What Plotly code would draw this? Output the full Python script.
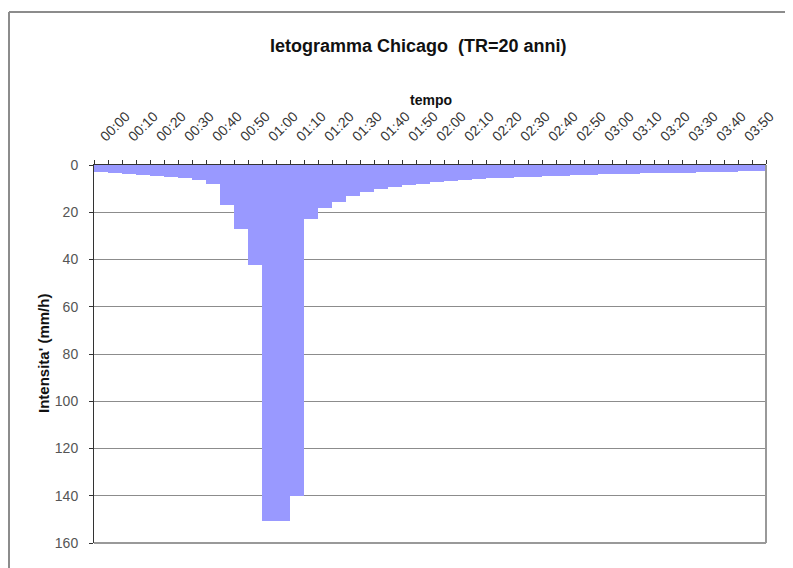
import plotly.graph_objects as go

# 5-minute intervals, 00:00 .. 03:55
step_min = 5
intensity = [2.8, 3.5, 3.8, 4.2, 4.7, 5.1, 5.6, 6.5, 8.0, 16.9, 27.1, 42.3,
             150.7, 150.7, 140.1, 23.0, 18.4, 15.5, 13.1, 11.6, 10.3, 9.3, 8.5, 7.9,
             7.3, 6.9, 6.4, 6.1, 5.7, 5.4, 5.1, 4.9, 4.7, 4.5, 4.3, 4.1,
             3.9, 3.8, 3.7, 3.5, 3.4, 3.3, 3.2, 3.1, 3.0, 2.9, 2.5, 2.4]
tick_labels = ["00:00", "00:10", "00:20", "00:30", "00:40", "00:50",
               "01:00", "01:10", "01:20", "01:30", "01:40", "01:50",
               "02:00", "02:10", "02:20", "02:30", "02:40", "02:50",
               "03:00", "03:10", "03:20", "03:30", "03:40", "03:50"]
y_ticks = [0, 20, 40, 60, 80, 100, 120, 140, 160]

x_centers = [step_min * i + step_min / 2 for i in range(len(intensity))]
tick_vals = [step_min * 2 * k + step_min / 2 for k in range(len(tick_labels))]

# page body has an 8px margin, so figure coords = window coords - 8
OFF = 8
W, H = 793 - OFF, 568 - OFF
L, T = 94 - OFF, 165 - OFF
PR, PB = 766 - OFF, 543 - OFF
R, B = W - PR, H - PB
pw, ph = PR - L, PB - T

def px_x(x):  # window pixel -> paper
    return (x - OFF - L) / pw

def px_y(y):
    return 1 - (y - OFF - T) / ph

font = "Liberation Sans, Arial, sans-serif"

fig = go.Figure(go.Bar(
    x=x_centers, y=intensity, width=step_min,
    marker=dict(color="#9999FF", line=dict(width=0)),
    hoverinfo="x+y",
))

fig.update_layout(
    width=W, height=H,
    margin=dict(l=L, r=R, t=T, b=B),
    paper_bgcolor="white", plot_bgcolor="white",
    showlegend=False, bargap=0,
    font=dict(family=font, size=13, color="#333333"),
)

fig.update_xaxes(
    side="top", range=[0, step_min * len(intensity)],
    tickvals=tick_vals, ticktext=tick_labels, tickangle=-45,
    ticks="", showgrid=False, zeroline=False,
    showline=True, linecolor="#333333", linewidth=1,
    tickfont=dict(size=14, color="#333333", family=font),
    ticklabelstandoff=14,
    minor=dict(tick0=0, dtick=step_min, ticks="outside", ticklen=4,
               tickcolor="#333333", showgrid=False),
)

fig.update_yaxes(
    range=[160, 0], tickvals=y_ticks,
    ticks="outside", ticklen=4, tickcolor="#333333",
    showgrid=True, gridcolor="#8c8c8c", gridwidth=1,
    zeroline=False, showline=True, linecolor="#333333", linewidth=1,
    tickfont=dict(size=14, color="#555555", family=font),
    ticklabelstandoff=8,
)

shapes = [
    # plot-area border (right & bottom)
    dict(type="line", xref="paper", yref="paper", x0=1, x1=1, y0=0, y1=1,
         line=dict(color="#999999", width=2)),
    dict(type="line", xref="paper", yref="paper", x0=0, x1=1, y0=0, y1=0,
         line=dict(color="#999999", width=2)),
    # chart-area frame
    dict(type="line", xref="paper", yref="paper", x0=px_x(9), x1=px_x(9),
         y0=px_y(12), y1=px_y(600), line=dict(color="#8c8c8c", width=2)),
    dict(type="line", xref="paper", yref="paper", x0=px_x(9), x1=px_x(820),
         y0=px_y(12), y1=px_y(12), line=dict(color="#8c8c8c", width=2)),
]
fig.update_layout(shapes=shapes)

ann = dict(xref="paper", yref="paper", showarrow=False,
           xanchor="center", yanchor="middle")
fig.add_annotation(text="<b>Ietogramma Chicago  (TR=20 anni)</b>",
                   x=px_x(418), y=px_y(46),
                   font=dict(size=18, color="#111111", family=font), **ann)
fig.add_annotation(text="<b>tempo</b>",
                   x=px_x(431), y=px_y(100),
                   font=dict(size=14, color="#111111", family=font), **ann)
fig.add_annotation(text="<b>Intensita' (mm/h)</b>",
                   x=px_x(43), y=px_y(354), textangle=-90,
                   font=dict(size=15, color="#111111", family=font), **ann)

fig.write_html("out.html")
